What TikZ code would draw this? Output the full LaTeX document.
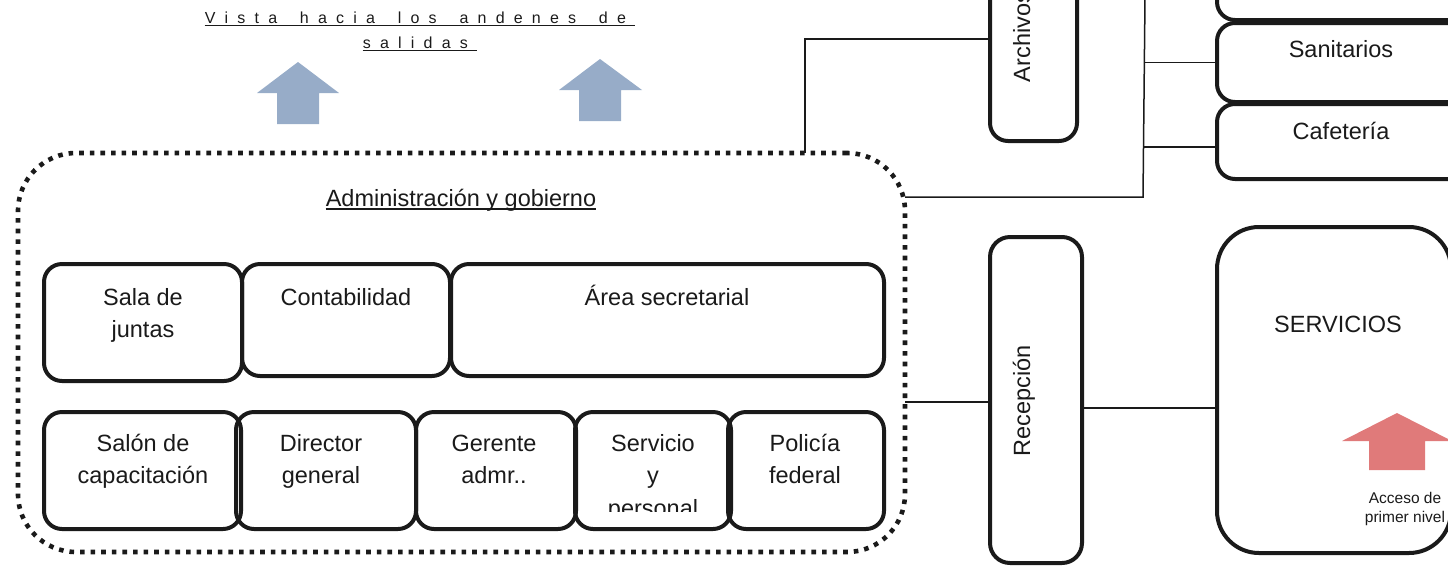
\documentclass[tikz,border=0pt]{standalone}
\usepackage{fontspec}
\setmainfont{Liberation Sans}

% letter-spaced text: a kern after every token, ~ for word spaces
\def\spreadtext#1{\spreadnext#1\relax}
\def\spreadnext#1{\ifx\relax#1\else#1\kern9.2pt\expandafter\spreadnext\fi}

% rounded room box given by its corners (x1,y1) (x2,y2)
\newcommand\roomat[6][]{%
  \pgfmathsetmacro\rcx{(#3+#5)/2}\pgfmathsetmacro\rcy{(#4+#6)/2}%
  \pgfmathsetmacro\rw{#5-#3}\pgfmathsetmacro\rh{#6-#4}%
  \node[room,#1,minimum width=\rw pt,minimum height=\rh pt] (#2) at (\rcx,\rcy) {};}

\definecolor{viewblue}{HTML}{97ACC8}
\definecolor{accessred}{HTML}{E07A7A}
\definecolor{ink}{HTML}{1A1A1A}

\tikzset{
  room/.style={draw=ink, line width=4pt, rounded corners=18pt, inner sep=0pt, outer sep=0pt},
  dotbox/.style={line width=4.6pt, dash pattern=on 4.6pt off 6pt, rounded corners=58pt},
  link/.style={draw=ink, line width=1.5pt},
  uline/.style={draw=ink, line width=1.4pt},
  txt/.style={font=\fontsize{23.5}{28}\selectfont, text=ink, inner sep=0pt, anchor=base},
  smalltxt/.style={font=\fontsize{16}{19}\selectfont, text=ink, inner sep=0pt, anchor=base},
  notetxt/.style={font=\fontsize{15.5}{19}\selectfont, text=ink, inner sep=0pt, anchor=base},
}

\begin{document}
\begin{tikzpicture}[x=1pt,y=-1pt]
\useasboundingbox (0,0) rectangle (1448,566);
\clip (0,0) rectangle (1448,566);

% heading over the exit arrows
\node[smalltxt] (vista1) at (420,23) {\spreadtext{Vista~hacia~los~andenes~de}};
\node[smalltxt] (vista2) at (420,48) {\spreadtext{salidas}};
\draw[uline,line width=1.2pt] ([yshift=-2.5pt]vista1.base west) -- ([yshift=-2.5pt]vista1.base east);
\draw[uline,line width=1.2pt] ([yshift=-2.5pt]vista2.base west) -- ([yshift=-2.5pt]vista2.base east);

% view arrows
\fill[viewblue] (257,93) -- (298,62) -- (339,93) -- (319,93) -- (319,124) -- (277,124) -- (277,93) -- cycle;
\fill[viewblue] (559,90) -- (600,59) -- (642,90) -- (621,90) -- (621,121) -- (579,121) -- (579,90) -- cycle;

% administration block
\roomat[dotbox,draw=ink]{admin}{18}{153}{905}{552}
\node[txt] (admintitle) at (461,206) {Administración y gobierno};
\draw[uline] ([yshift=-3pt]admintitle.base west) -- ([yshift=-3pt]admintitle.base east);

% upper row of offices
\roomat{sala}{44}{264}{242}{381}
\roomat{conta}{242}{264}{450}{376}
\roomat{area}{451}{264}{884}{376}
\node[txt] (sala1) at (143,305) {Sala de};
\node[txt] (sala2) at (143,337) {juntas};
\node[txt] (conta1) at (346,305) {Contabilidad};
\node[txt] (area1) at (667,305) {Área secretarial};

% lower row of offices
\roomat{salon}{44}{412}{241}{529}
\roomat{director}{236}{412}{416}{529}
\roomat{gerente}{416}{412}{576}{529}
\roomat{servicio}{575}{412}{731}{529}
\roomat{policia}{728}{412}{884}{529}
\node[txt] (salon1) at (143,451) {Salón de};
\node[txt] (salon2) at (143,483.5) {capacitación};
\node[txt] (director1) at (321,451) {Director};
\node[txt] (director2) at (321,483.5) {general};
\node[txt] (gerente1) at (494,451) {Gerente};
\node[txt] (gerente2) at (494,483.5) {admr..};
\node[txt] (policia1) at (805,451) {Policía};
\node[txt] (policia2) at (805,483.5) {federal};
\begin{scope}
  \clip (575,412) rectangle (731,511);
  \node[txt] (servicio1) at (653,451) {Servicio};
  \node[txt] (servicio2) at (653,483.5) {y};
  \node[txt] (servicio3) at (653,516) {personal};
\end{scope}

% archives and services column
\roomat{archivos}{990}{-63}{1077}{141}
\node[txt,rotate=90] (archivos1) at (1030,37) {Archivos};
\roomat{topbox}{1217}{-60}{1480}{20}
\roomat{sanit}{1217}{23}{1480}{102}
\roomat{cafe}{1217}{104}{1480}{179}
\node[txt] (sanit1) at (1341,57.5) {Sanitarios};
\node[txt] (cafe1) at (1341,139.5) {Cafetería};

% reception and services
\roomat[rounded corners=20pt]{recep}{990}{237}{1082}{563}
\node[txt,rotate=90] (recep1) at (1030,401) {Recepción};
\roomat[rounded corners=42pt]{serv}{1217}{227}{1451}{553}
\node[txt] (serv1) at (1338,332.5) {SERVICIOS};
\fill[accessred] (1342,441) -- (1397,413) -- (1452,441) -- (1425,441) -- (1425,470) -- (1369,470) -- (1369,441) -- cycle;
\node[notetxt] (acceso1) at (1405,503) {Acceso de};
\node[notetxt] (acceso2) at (1405,522.5) {primer nivel};

% connectors
\coordinate (ajoin) at (805,153);
\draw[link] (ajoin) |- (archivos.west |- 0,39);
\coordinate (spinetop) at (1145,-2);
\coordinate (spinebot) at (1143,197);
\coordinate (adminne) at (905,197);
\draw[link] (spinetop) -- (spinebot) -- (adminne);
\coordinate (sp1) at (1144.5,62.5);
\coordinate (sp2) at (1144,147);
\draw[link] (sp1) -- (sanit.west);
\draw[link] (sp2) -- (sp2 -| cafe.west);
\draw[link] (admin.east |- 0,402) -- (recep.west |- 0,402);
\coordinate (rr) at (1082,408);
\draw[link] (rr) -- (rr -| serv.west);
\end{tikzpicture}
\end{document}
